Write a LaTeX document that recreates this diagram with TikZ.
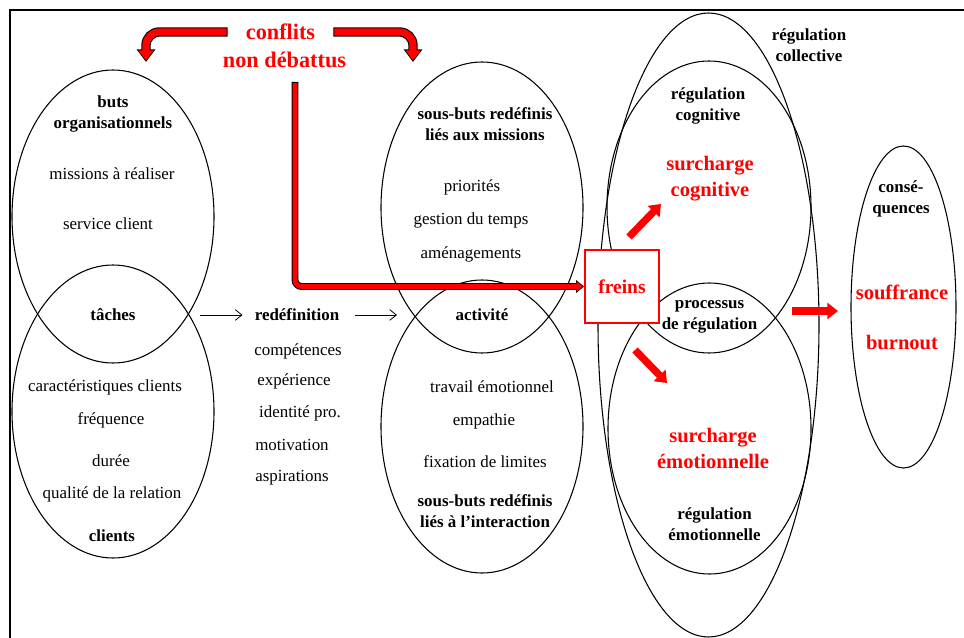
\documentclass[tikz,border=0pt]{standalone}
\usepackage{fontspec}
\setmainfont{Liberation Serif}
\usetikzlibrary{shapes.geometric,arrows.meta}

\begin{document}
\begin{tikzpicture}[x=0.75pt,y=-0.75pt]
  \useasboundingbox (0,0) rectangle (964,638);
  \tikzstyle{Zone}=[ellipse,draw,line width=0.8pt,inner sep=0pt]
  \tikzstyle{Texte}=[font=\fontsize{12.7}{15.75}\selectfont,align=center,inner sep=1pt]
  \tikzstyle{Titre}=[Texte,font=\fontsize{12.7}{15.75}\selectfont\bfseries]
  \tikzstyle{Rouge}=[Texte,text=red,font=\fontsize{15.4}{19.5}\selectfont\bfseries]
  \draw[line width=1.7pt] (10,638) |- (964,10);
  \node[Zone,minimum width=151.5pt,minimum height=219.75pt] (buts) at (113,216.5) {};
  \node[Zone,minimum width=151.5pt,minimum height=219.75pt] (clients) at (113,411.5) {};
  \node[Zone,minimum width=151.5pt,minimum height=218.25pt] (missions) at (482,207.5) {};
  \node[Zone,minimum width=151.5pt,minimum height=219.75pt] (interaction) at (482,426.5) {};
  \node[Zone,minimum width=165.75pt,minimum height=468pt] (collective) at (708.5,325) {};
  \node[Zone,minimum width=153pt,minimum height=219pt] (cognitive) at (709,207) {};
  \node[Zone,minimum width=152.25pt,minimum height=218.25pt] (emotion) at (709.5,428.5) {};
  \node[Zone,minimum width=78.75pt,minimum height=241.5pt] (consequences) at (903.5,307) {};
  \node[Titre] (butsorg) at (113,113.5) {buts\\organisationnels};
  \node[Texte] (realiser) at (112,174) {missions à réaliser};
  \node[Texte] (service) at (108,224) {service client};
  \node[Titre] (taches) at (113,315) {tâches};
  \node[Texte] (caract) at (105,387) {caractéristiques clients};
  \node[Texte] (frequence) at (111,420) {fréquence};
  \node[Texte] (duree) at (111,461) {durée};
  \node[Texte] (qualite) at (112,494) {qualité de la relation};
  \node[Titre] (clientslbl) at (112,536) {clients};
  \node[Titre] (redef) at (297,315) {redéfinition};
  \node[Texte] (competences) at (298,351) {compétences};
  \node[Texte] (experience) at (294,381) {expérience};
  \node[Texte] (identite) at (300,413) {identité pro.};
  \node[Texte] (motivation) at (292,445) {motivation};
  \node[Texte] (aspirations) at (292,478) {aspirations};
  \node[Titre] (sousmissions) at (485,124.5) {sous-buts redéfinis\\liés aux missions};
  \node[Texte] (priorites) at (472,187) {priorités};
  \node[Texte] (temps) at (471,220) {gestion du temps};
  \node[Texte] (amenag) at (471,254) {aménagements};
  \node[Titre] (activite) at (482,315) {activité};
  \node[Texte] (travail) at (492,387) {travail émotionnel};
  \node[Texte] (empathie) at (484,421) {empathie};
  \node[Texte] (limites) at (485,462) {fixation de limites};
  \node[Titre] (sousinter) at (485,511.5) {sous-buts redéfinis\\liés à l’interaction};
  \node[Titre] (regcoll) at (809,45.5) {régulation\\collective};
  \node[Titre] (regcog) at (708,105.5) {régulation\\cognitive};
  \node[Rouge] (surcog) at (710,179) {surcharge\\cognitive};
  \node[Titre] (processus) at (709.5,317) {processus\\de régulation};
  \node[Rouge] (surem) at (713,448) {surcharge\\émotionnelle};
  \node[Titre] (regem) at (714.5,524.5) {régulation\\émotionnelle};
  \node[Titre] (conseq) at (901,199) {consé-\\quences};
  \node[Rouge] (souffrance) at (902,292) {souffrance};
  \node[Rouge] (burnout) at (902,343) {burnout};
  \node[Rouge,font=\fontsize{16.7}{21}\selectfont\bfseries,inner xsep=13.5pt] (conflits) at (280.5,32) {conflits};
  \node[Rouge,font=\fontsize{16.7}{21}\selectfont\bfseries] (debattus) at (284.5,60) {non débattus};
  \node[draw=red,fill=white,line width=1.5pt,minimum width=55.5pt,minimum height=54.75pt,
        text=red,font=\fontsize{14.6}{18}\selectfont\bfseries] (freins) at (622,286.5) {freins};
  \coordinate (pointeG) at (146,62);
  \coordinate (pointeD) at (413,62);
  \coordinate (depart) at (295,82);
  \coordinate (tachesout) at (200,315);
  \coordinate (activin) at (397,315);
  \coordinate (hautdep) at (629,237);
  \coordinate (hautarr) at (661,204);
  \coordinate (basdep) at (635,350);
  \coordinate (basarr) at (667,383);
  \coordinate (consdep) at (792,311);
  \coordinate (consarr) at (838,311);
  \tikzstyle{Contour}=[line width=7pt,black,rounded corners=10pt,-{Triangle[length=9.5pt,width=13.5pt]}]
  \tikzstyle{Plein}=[line width=5.4pt,red,rounded corners=10pt,-{Triangle[length=7.8pt,width=11pt]},
                     shorten >=1pt,shorten <=0.8pt]
  \draw[Contour] (conflits.west) -| (pointeG);
  \draw[Plein] (conflits.west) -| (pointeG);
  \draw[Contour] (conflits.east) -| (pointeD);
  \draw[Plein] (conflits.east) -| (pointeD);
  \tikzstyle{Contour}=[line width=5.2pt,black,rounded corners=5pt,-{Triangle[length=6pt,width=9.5pt]}]
  \tikzstyle{Plein}=[line width=3.6pt,red,rounded corners=5pt,-{Triangle[length=4.8pt,width=7.5pt]},
                     shorten >=0.8pt,shorten <=0.8pt]
  \draw[Contour] (depart) |- (freins.west);
  \draw[Plein] (depart) |- (freins.west);
  \tikzstyle{Fleche}=[line width=5.5pt,red,-{Triangle[length=8pt,width=12pt]}]
  \draw[Fleche] (hautdep) -- (hautarr);
  \draw[Fleche] (basdep) -- (basarr);
  \draw[Fleche] (consdep) -- (consarr);
  \tikzstyle{Fine}=[line width=0.6pt,-{Straight Barb[length=5pt,width=8pt]}]
  \draw[Fine,shorten >=8pt] (tachesout) -- (redef);
  \draw[Fine,shorten <=11pt] (redef) -- (activin);
\end{tikzpicture}
\end{document}
